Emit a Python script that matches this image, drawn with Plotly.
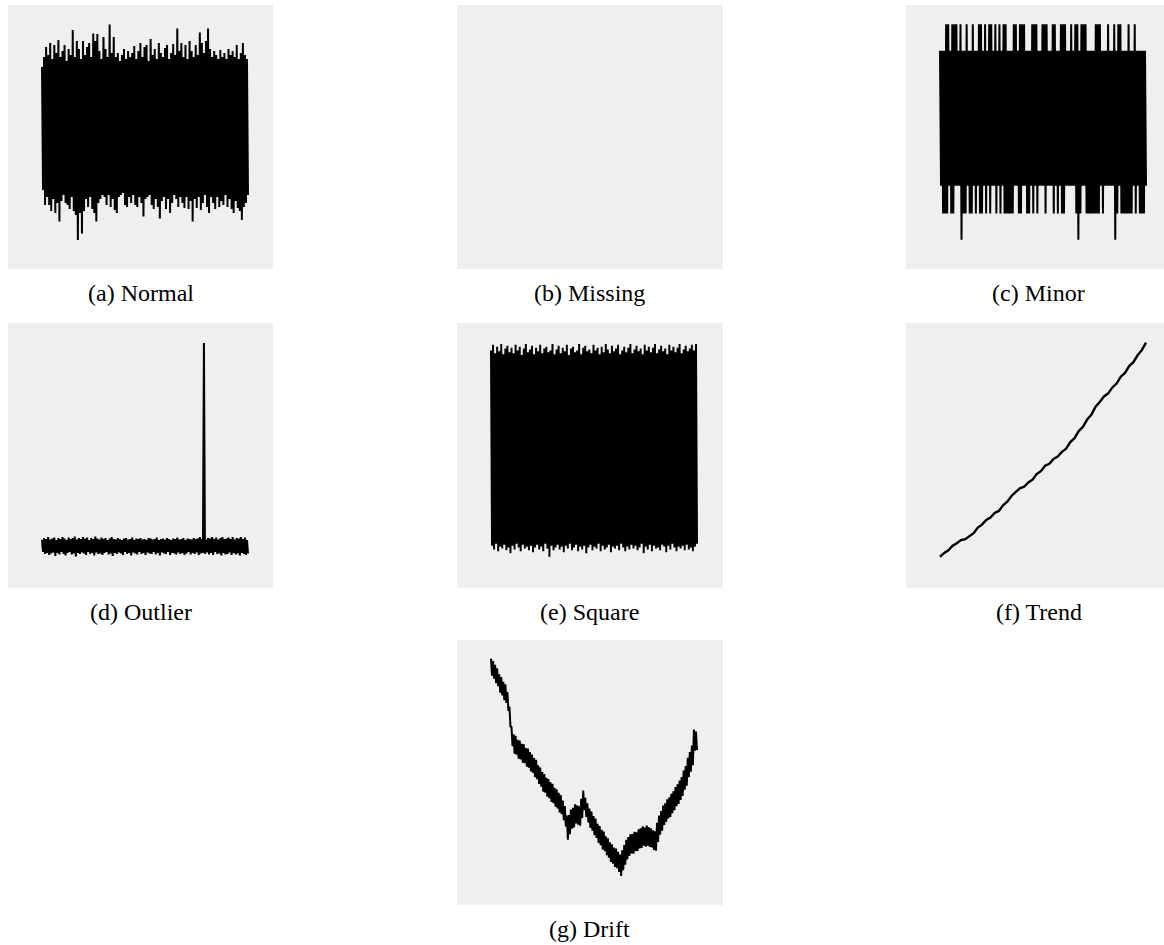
import plotly.graph_objects as go

W, H = 1164, 945

# ---- series values (one sample per index) ----
normal = [
    3.0, -3.15, 3.5, -3.9, 4.0, -3.5, 3.6, -3.9, 4.2, -4.2, 3.4, -3.6, 4.1, -4.3, 3.7, -3.8, 4.35, -4.73, 3.5, -3.7,
    3.8, -3.4, 4.1, -3.8, 3.3, -3.9, 3.9, -4.1, 3.6, -3.5, 4.85, -4.2, 3.5, -4.4, 4.3, -5.65, 3.9, -4.3, 3.4, -5.32,
    4.3, -4.2, 3.6, -3.6, 4.0, -4.0, 4.2, -3.5, 3.5, -4.1, 4.68, -4.3, 4.3, -4.73, 4.65, -3.8, 3.8, -3.6, 3.4, -3.4,
    4.5, -3.5, 3.9, -3.9, 3.5, -3.4, 5.13, -4.0, 3.7, -3.6, 4.5, -4.15, 3.5, -4.3, 3.7, -3.5, 3.3, -3.4, 3.6, -3.3,
    3.9, -3.9, 3.4, -4.0, 3.8, -3.5, 3.5, -3.8, 3.7, -3.4, 4.05, -3.9, 3.4, -4.0, 3.8, -3.5, 4.2, -3.8, 3.5, -4.48,
    4.0, -3.6, 4.1, -3.5, 3.3, -3.4, 4.4, -3.9, 3.6, -4.1, 3.9, -3.6, 3.4, -4.0, 4.2, -4.57, 3.7, -3.7, 3.5, -3.5,
    3.95, -4.1, 4.1, -3.6, 3.4, -4.3, 3.7, -3.8, 4.15, -3.4, 3.6, -3.6, 4.93, -4.0, 3.8, -3.5, 4.2, -3.8, 3.5, -4.05,
    4.1, -3.5, 3.4, -4.1, 4.3, -3.7, 3.8, -4.73, 3.5, -3.6, 4.1, -4.05, 3.6, -3.5, 4.72, -4.15, 4.2, -3.8, 3.7, -3.4,
    4.3, -4.0, 4.93, -4.3, 3.9, -3.5, 3.5, -3.8, 3.8, -4.1, 3.6, -3.5, 3.4, -4.0, 3.85, -3.7, 3.5, -3.9, 3.7, -3.4,
    3.4, -4.0, 3.9, -3.6, 3.6, -4.1, 3.8, -4.3, 3.5, -3.7, 4.1, -4.05, 3.4, -4.2, 3.7, -4.65, 4.2, -4.0, 3.6, -3.8, 3.4, -3.4,
]

missing = []

minor = [
    1, -1, 1, -1.41, 1, -1.41, 1.39, -1.41, 1.39, -1, 1, -1.41, 1.39, -1.41, 1.39, -1, 1.39, -1, 1, -1,
    1.39, -1.8, 1, -1.41, 1, -1.41, 1.39, -1, 1, -1.41, 1, -1.41, 1.39, -1, 1, -1.41, 1, -1, 1.39, -1.41,
    1.39, -1.41, 1, -1, 1.39, -1.41, 1, -1, 1.39, -1.41, 1.39, -1, 1, -1, 1.39, -1.41, 1, -1, 1.39, -1.41,
    1, -1, 1.39, -1.41, 1.39, -1.41, 1, -1.41, 1, -1.41, 1, -1.41, 1.39, -1, 1.39, -1, 1, -1.41, 1.39, -1.41,
    1.39, -1, 1.39, -1, 1, -1.41, 1, -1.41, 1, -1, 1.39, -1.41, 1.39, -1, 1.39, -1.41, 1, -1, 1, -1,
    1.39, -1, 1.39, -1.41, 1.39, -1, 1, -1, 1, -1, 1.39, -1.41, 1.39, -1, 1, -1.41, 1, -1, 1.39, -1.41,
    1.39, -1.41, 1.39, -1, 1, -1, 1, -1, 1.39, -1, 1, -1, 1.39, -1.41, 1.39, -1.8, 1, -1.41, 1.39, -1,
    1.39, -1, 1.39, -1.41, 1, -1.41, 1, -1.41, 1, -1.41, 1, -1.41, 1.39, -1.41, 1.39, -1.41, 1.39, -1, 1, -1.41,
    1, -1, 1, -1, 1.39, -1, 1, -1, 1, -1, 1.39, -1.8, 1, -1.41, 1.39, -1, 1.39, -1.41, 1, -1.41,
    1, -1.41, 1, -1.41, 1.39, -1.41, 1, -1.41, 1, -1, 1.39, -1.41, 1, -1, 1, -1.41, 1, -1.41, 1, -1.41, 1, -1,
]

outlier = [
    0.6, -0.6, 0.8, -0.8, 0.7, -0.7, 0.9, -0.9, 0.65, -0.75, 0.75, -0.65, 0.85, -1.0, 0.6, -0.7, 0.8, -0.85, 0.7, -0.6,
    0.9, -0.8, 0.75, -0.95, 0.6, -0.7, 0.85, -0.6, 0.7, -0.85, 0.8, -0.75, 0.95, -1.05, 0.65, -0.7, 0.8, -0.8, 0.7, -0.65,
    0.9, -0.75, 0.75, -0.9, 0.85, -0.6, 0.6, -0.8, 0.8, -0.7, 0.7, -0.95, 0.95, -0.65, 0.75, -0.8, 0.65, -0.75, 0.85, -0.9,
    0.7, -0.7, 0.8, -0.6, 0.6, -0.85, 0.75, -0.75, 0.9, -1.0, 0.7, -0.7, 0.65, -0.8, 0.8, -0.65, 0.7, -0.75, 0.6, -0.9,
    0.75, -0.6, 0.8, -0.8, 0.65, -0.7, 0.7, -0.95, 0.85, -0.65, 0.6, -0.75, 0.75, -0.85, 0.7, -0.6, 0.8, -0.8, 0.65, -0.7,
    0.7, -0.9, 0.6, -0.65, 0.8, -0.75, 0.75, -0.8, 0.65, -0.6, 0.7, -0.85, 0.85, -0.7, 0.6, -0.95, 0.7, -0.65, 0.75, -0.75,
    0.65, -0.8, 0.8, -0.6, 0.7, -0.9, 0.6, -0.7, 0.75, -0.75, 0.7, -0.85, 0.85, -0.65, 0.65, -0.8, 0.7, -0.7, 0.8, -0.9,
    0.6, -0.75, 0.75, -0.6, 0.7, -0.85, 0.65, -0.7, 0.8, -0.8, 0.7, -0.65, 0.75, -0.9, 0.9, -0.75, 0.7, -0.7, 20.3, -0.8,
    0.65, -0.65, 0.8, -0.85, 0.75, -0.7, 0.9, -0.9, 0.7, -0.6, 0.85, -0.8, 0.65, -0.75, 0.8, -0.95, 0.9, -0.7, 0.7, -0.85,
    0.75, -0.8, 0.85, -0.65, 0.7, -0.9, 0.9, -0.7, 0.65, -0.85, 0.8, -0.75, 0.75, -0.95, 0.9, -0.7, 0.7, -0.8, 0.85, -0.9, 0.6, -0.75,
]

square = [
    1.06, -1.04, 1.12, -1.08, 1.03, -1.02, 1.10, -1.10, 1.05, -1.05, 1.13, -1.07, 1.02, -1.03, 1.08, -1.09, 1.11, -1.06, 1.04, -1.12,
    1.09, -1.04, 1.03, -1.08, 1.12, -1.02, 1.06, -1.06, 1.10, -1.10, 1.01, -1.03, 1.08, -1.07, 1.13, -1.05, 1.04, -1.09, 1.07, -1.04,
    1.11, -1.11, 1.02, -1.06, 1.09, -1.03, 1.05, -1.08, 1.12, -1.05, 1.03, -1.10, 1.08, -1.02, 1.10, -1.07, 1.04, -1.16, 1.06, -1.04,
    1.13, -1.09, 1.02, -1.06, 1.07, -1.03, 1.11, -1.08, 1.03, -1.05, 1.09, -1.11, 1.05, -1.04, 1.12, -1.07, 1.01, -1.02, 1.08, -1.09,
    1.10, -1.06, 1.04, -1.03, 1.06, -1.10, 1.13, -1.05, 1.02, -1.08, 1.09, -1.04, 1.11, -1.12, 1.05, -1.06, 1.07, -1.03, 1.03, -1.09,
    1.12, -1.05, 1.06, -1.07, 1.09, -1.02, 1.02, -1.10, 1.10, -1.04, 1.04, -1.08, 1.13, -1.06, 1.07, -1.03, 1.03, -1.11, 1.11, -1.05,
    1.05, -1.07, 1.08, -1.04, 1.12, -1.09, 1.02, -1.02, 1.06, -1.06, 1.10, -1.10, 1.04, -1.05, 1.09, -1.08, 1.13, -1.03, 1.03, -1.07,
    1.07, -1.04, 1.11, -1.09, 1.05, -1.06, 1.08, -1.02, 1.02, -1.12, 1.12, -1.05, 1.06, -1.08, 1.10, -1.03, 1.04, -1.10, 1.09, -1.04,
    1.13, -1.07, 1.03, -1.06, 1.07, -1.09, 1.11, -1.03, 1.05, -1.05, 1.08, -1.11, 1.02, -1.04, 1.12, -1.08, 1.06, -1.02, 1.10, -1.06,
    1.04, -1.10, 1.09, -1.05, 1.13, -1.07, 1.03, -1.04, 1.07, -1.09, 1.11, -1.03, 1.05, -1.08, 1.08, -1.06, 1.12, -1.10, 1.06, -1.05, 1.13, -1.02,
]

trend = [
    0.00, 0.18, 0.30, 0.52, 0.63, 0.78, 0.82, 0.98, 1.10, 1.36,
    1.50, 1.72, 1.83, 2.05, 2.14, 2.40, 2.57, 2.84, 3.00, 3.20,
    3.27, 3.47, 3.60, 3.86, 4.00, 4.25, 4.34, 4.57, 4.68, 4.90,
    5.05, 5.36, 5.54, 5.87, 6.07, 6.41, 6.63, 7.01, 7.23, 7.49,
    7.63, 7.91, 8.09, 8.41, 8.59, 8.91, 9.09, 9.41, 9.65, 10.0,
]

drift = [
    6.65, 5.80, 6.53, 5.65, 6.34, 5.42, 6.16, 5.27, 5.87, 4.95, 5.73, 4.81, 5.49, 4.57, 5.36, 4.43, 4.98, 4.03, 4.25, 3.25,
    3.22, 2.27, 2.86, 1.90, 2.79, 1.84, 2.59, 1.65, 2.55, 1.61, 2.39, 1.45, 2.37, 1.42, 2.18, 1.25, 2.15, 1.19, 1.98, 1.01,
    1.85, 0.93, 1.68, 0.72, 1.59, 0.62, 1.31, 0.38, 1.20, 0.24, 0.98, 0.00, 0.88, -0.06, 0.69, -0.25, 0.63, -0.33, 0.46, -0.52,
    0.39, -0.58, 0.19, -0.75, 0.12, -0.84, -0.06, -1.04, -0.17, -1.13, -0.45, -1.43, -0.72, -1.74, -1.20, -2.40, -1.17, -2.13, -0.90, -1.86,
    -0.81, -1.79, -0.63, -1.59, -0.69, -1.65, -0.73, -1.71, -0.36, -1.32, 0.05, -0.93, -0.31, -1.27, -0.58, -1.54, -0.85, -1.82, -1.00, -1.96,
    -1.22, -2.18, -1.35, -2.32, -1.61, -2.57, -1.72, -2.68, -1.91, -2.89, -2.00, -2.97, -2.24, -3.18, -2.33, -3.31, -2.54, -3.52, -2.63, -3.61,
    -2.80, -3.77, -2.85, -3.83, -3.01, -4.02, -3.15, -4.22, -2.93, -3.93, -2.67, -3.65, -2.41, -3.39, -2.27, -3.22, -2.13, -3.09, -2.12, -3.10,
    -2.01, -2.98, -2.03, -2.97, -1.88, -2.84, -1.84, -2.82, -1.73, -2.70, -1.80, -2.75, -1.70, -2.71, -1.79, -2.77, -1.83, -2.79, -1.94, -2.92,
    -1.98, -2.96, -1.56, -2.52, -1.20, -2.16, -0.97, -1.95, -0.70, -1.67, -0.58, -1.52, -0.38, -1.34, -0.29, -1.27, -0.11, -1.08, 0.02, -0.93,
    0.23, -0.73, 0.36, -0.62, 0.55, -0.42, 0.73, -0.22, 1.05, 0.09, 1.28, 0.30, 1.69, 0.72, 1.98, 1.00, 2.30, 1.32, 3.10, 2.05, 3.00, 2.08,
]

captions = ["(a) Normal", "(b) Missing", "(c) Minor", "(d) Outlier",
            "(e) Square", "(f) Trend", "(g) Drift"]
series = [normal, missing, minor, outlier, square, trend, drift]

# ---- layout of the panels (pixel boxes: left, right, top, bottom) ----
boxes = [
    (8, 273, 5, 269), (457, 723, 5, 269), (906, 1164, 5, 269),
    (8, 273, 323, 588), (457, 723, 323, 588), (906, 1164, 323, 588),
    (457, 723, 640, 905),
]
y_ranges = [(-7.1, 6.1), (0, 1), (-2.234, 1.677), (-4.2, 22.3),
            (-1.495, 1.355), (-1.46, 10.92), (-5.67, 7.58)]
line_widths = [2.0, 2.0, 2.0, 2.0, 2.0, 2.4, 2.0]
PANEL_W = 265             # full panel width in px
DATA_L, DATA_W = 34, 206  # where the samples sit inside a panel

fig = go.Figure()
layout = {}
for i, (vals, box, yr, lw) in enumerate(zip(series, boxes, y_ranges, line_widths)):
    n = i + 1
    sfx = "" if n == 1 else str(n)
    left, right, top, bottom = box
    if len(vals) > 1:
        span = len(vals) - 1
        x0 = -span * DATA_L / DATA_W
        x1 = x0 + span * (right - left) / DATA_W
    else:
        x0, x1 = 0, 1
    fig.add_trace(go.Scatter(
        x=list(range(len(vals))), y=vals, mode="lines",
        line=dict(color="black", width=lw),
        xaxis="x" + sfx, yaxis="y" + sfx, hoverinfo="skip",
    ))
    layout["xaxis" + sfx] = dict(
        domain=[left / W, right / W], range=[x0, x1], anchor="y" + sfx,
        showgrid=False, zeroline=False, showticklabels=False, ticks="",
        showline=False, fixedrange=True,
    )
    layout["yaxis" + sfx] = dict(
        domain=[(H - bottom) / H, (H - top) / H], range=list(yr), anchor="x" + sfx,
        showgrid=False, zeroline=False, showticklabels=False, ticks="",
        showline=False, fixedrange=True,
    )

annotations = []
for cap, box in zip(captions, boxes):
    left, right, top, bottom = box
    cx = left + PANEL_W / 2
    cy = bottom + 24
    annotations.append(dict(
        text=cap, x=cx / W, y=(H - cy) / H, xref="paper", yref="paper",
        xanchor="center", yanchor="middle", showarrow=False,
        font=dict(family="Liberation Serif, Times New Roman, serif", size=24, color="black"),
    ))

fig.update_layout(
    width=W, height=H, autosize=False,
    margin=dict(l=0, r=0, t=0, b=0),
    paper_bgcolor="white", plot_bgcolor="#efefef",
    showlegend=False, hovermode=False,
    annotations=annotations,
    **layout,
)

fig.write_html("out.html")
